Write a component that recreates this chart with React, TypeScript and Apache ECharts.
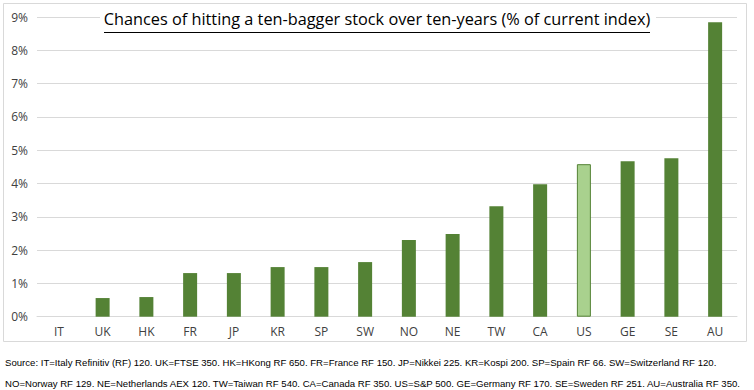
import React, { useEffect, useRef } from "react";
import * as echarts from "echarts";

const categories = ["IT", "UK", "HK", "FR", "JP", "KR", "SP", "SW", "NO", "NE", "TW", "CA", "US", "GE", "SE", "AU"];
const values = [0, 0.56, 0.59, 1.31, 1.31, 1.49, 1.49, 1.64, 2.3, 2.48, 3.32, 3.98, 4.58, 4.67, 4.76, 8.84];
const highlight = "US";
const titleText = "Chances of hitting a ten-bagger stock over ten-years (% of current index)";
const sourceLines = [
  "Source: IT=Italy Refinitiv (RF) 120. UK=FTSE 350. HK=HKong RF 650. FR=France RF 150. JP=Nikkei 225. KR=Kospi 200. SP=Spain RF 66. SW=Switzerland RF 120.",
  "NO=Norway RF 129. NE=Netherlands AEX 120. TW=Taiwan RF 540. CA=Canada RF 350. US=S&P 500. GE=Germany RF 170. SE=Sweden RF 251. AU=Australia RF 350.",
];

export default function App() {
  const ref = useRef<HTMLDivElement>(null);
  useEffect(() => {
    if (!ref.current) return;
    const chart = echarts.init(ref.current, null, { renderer: "svg" });
    const font = "Liberation Sans, Arial, sans-serif";
    chart.setOption({
      animation: false,
      backgroundColor: "#ffffff",
      grid: { left: 37, right: 17, top: 17, bottom: 73.3 },
      xAxis: {
        type: "category",
        data: categories,
        axisLine: { lineStyle: { color: "#d9d9d9" } },
        axisTick: { show: false },
        axisLabel: { color: "#404040", fontSize: 12, fontFamily: "Open Sans, sans-serif", margin: 9 },
      },
      yAxis: {
        type: "value",
        min: 0,
        max: 9,
        interval: 1,
        axisLabel: { formatter: "{value}%", color: "#404040", fontSize: 12, fontFamily: "Open Sans, sans-serif", margin: 9 },
        splitLine: { lineStyle: { color: "#d9d9d9" } },
        axisLine: { show: false },
        axisTick: { show: false },
      },
      series: [
        {
          type: "bar",
          barWidth: 14,
          data: values.map((v, i) =>
            categories[i] === highlight
              ? { value: v, itemStyle: { color: "#a9d18e", borderColor: "#548235", borderWidth: 1 } }
              : { value: v, itemStyle: { color: "#548235" } }
          ),
        },
      ],
      graphic: [
        {
          type: "rect",
          shape: { x: 3.5, y: 3.5, width: 743, height: 338 },
          style: { fill: "none", stroke: "#d9d9d9", lineWidth: 1 },
          z: -1,
        },
        {
          type: "rect",
          shape: { x: 100, y: 8, width: 556, height: 28 },
          style: { fill: "#ffffff" },
          z: 5,
        },
        {
          type: "text",
          x: 377,
          y: 19,
          z: 10,
          style: {
            text: titleText,
            fill: "#000000",
            fontSize: 16.3,
            fontFamily: "Open Sans, sans-serif",
            align: "center",
            verticalAlign: "middle",
          },
        },
        {
          type: "line",
          z: 10,
          shape: { x1: 104, y1: 32.5, x2: 650, y2: 32.5 },
          style: { stroke: "#000000", lineWidth: 1 },
        },
        {
          type: "text",
          x: 5,
          y: 362,
          style: { text: sourceLines[0], fill: "#000000", fontSize: 9.6, fontFamily: font, verticalAlign: "middle" },
        },
        {
          type: "text",
          x: 5,
          y: 383,
          style: { text: sourceLines[1], fill: "#000000", fontSize: 9.6, fontFamily: font, verticalAlign: "middle" },
        },
      ],
    });
    return () => chart.dispose();
  }, []);
  return <div ref={ref} style={{ position: "absolute", left: 0, top: 0, width: 754, height: 390 }} />;
}
